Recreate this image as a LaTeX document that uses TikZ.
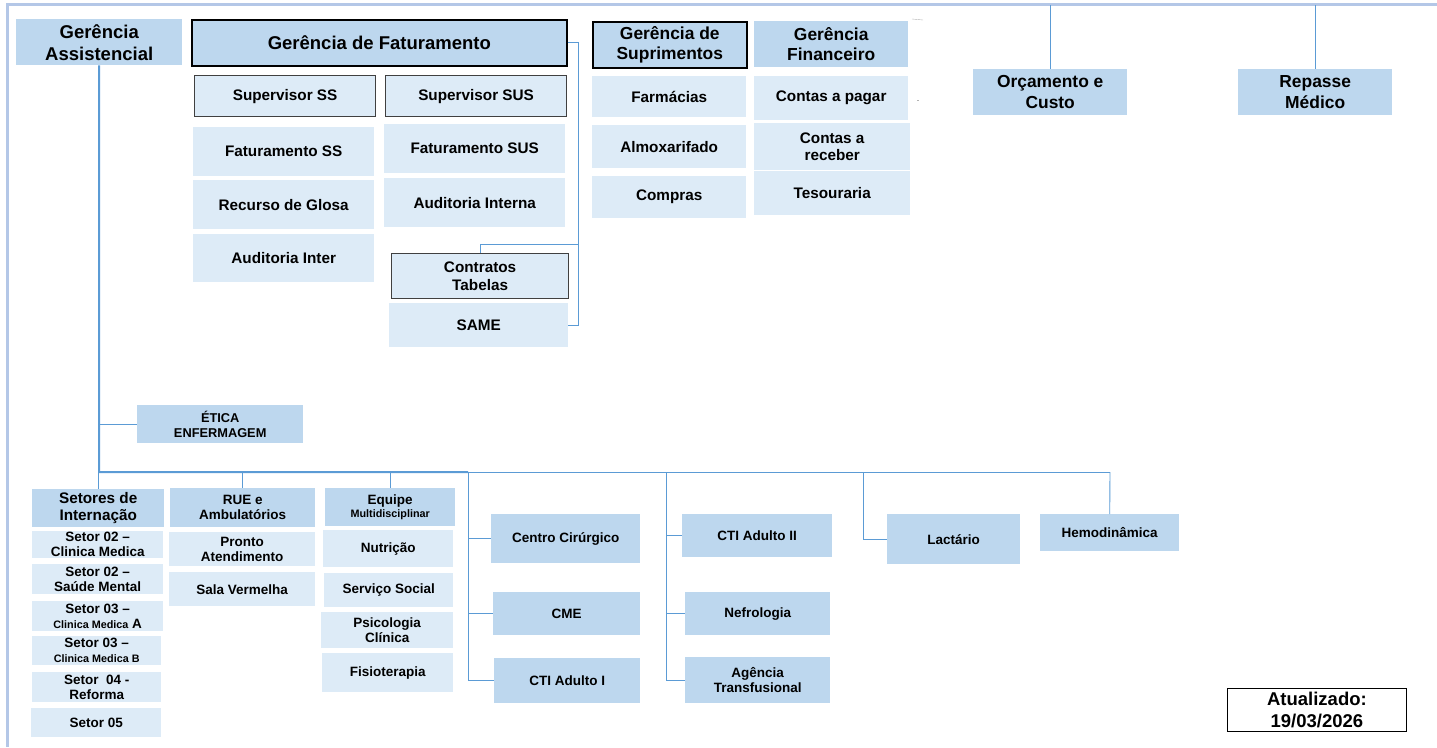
\documentclass[tikz,border=0pt]{standalone}
\usepackage{fontspec}
\setmainfont{Liberation Sans}
\definecolor{boxdark}{RGB}{189,215,238}
\definecolor{boxlight}{RGB}{221,235,247}
\definecolor{linkblue}{RGB}{91,155,213}
\definecolor{framelight}{RGB}{180,199,231}
\newcommand\smalltype{\fontsize{10.8}{12}\selectfont}
\begin{document}
\begin{tikzpicture}[x=1pt,y=-1pt,
		box/.style 2 args={anchor=north west, inner sep=0pt, align=center, minimum width=#1pt, minimum height=#2pt},
		hbox/.style={fill=boxdark},
		lbox/.style={fill=boxlight},
		hframe/.style={fill=boxdark, draw=black, line width=1.6pt},
		lframe/.style={fill=boxlight, draw=black!75, line width=1.2pt},
		fbig/.style={font=\fontsize{18.5}{22}\selectfont\bfseries},
		fmid/.style={font=\fontsize{17.4}{20.5}\selectfont\bfseries},
		fsub/.style={font=\fontsize{15.3}{17.5}\selectfont\bfseries},
		fsmall/.style={font=\fontsize{13.5}{15}\selectfont\bfseries},
		link/.style={draw=linkblue, line width=0.9pt},
		trunk/.style={draw=linkblue, line width=2pt}]
		\useasboundingbox (0,0) rectangle (1437,747);
		% frame
			\draw [framelight, line width=3pt] (7,747) -- (7,4) -- (1437,4);
			\coordinate (frametop) at (0,5);
			\draw [gray!60] (912,19) -- (923,20);
			\draw [gray!60] (917,100) -- (919,100);
		% gerencias
			\node [hbox, box={166}{46}, fbig] (assist) at (16,19) {Gerência\\Assistencial};
			\node [hframe, box={375}{46}, fbig] (fat) at (191,19) {Gerência de Faturamento};
			\node [hframe, box={154}{46}, fmid] (supr) at (592,21) {Gerência de\\Suprimentos};
			\node [hbox, box={154}{46}, fmid] (fin) at (754,21) {Gerência\\Financeiro};
			\node [hbox, box={154}{46}, fmid] (orc) at (973,69) {Orçamento e\\Custo};
			\node [hbox, box={154}{46}, fmid] (rep) at (1238,69) {Repasse\\Médico};
		% faturamento
			\node [lframe, box={181}{41}, fsub] (supSS) at (194,75) {Supervisor SS};
			\node [lframe, box={181}{41}, fsub] (supSUS) at (385,75) {Supervisor SUS};
			\node [lbox, box={181}{49}, fsub] (fatSS) at (193,127) {Faturamento SS};
			\node [lbox, box={181}{49}, fsub] (fatSUS) at (384,124) {Faturamento SUS};
			\node [lbox, box={181}{49}, fsub] (glosa) at (193,180) {Recurso de Glosa};
			\node [lbox, box={181}{49}, fsub] (audInt) at (384,178) {Auditoria Interna};
			\node [lbox, box={181}{48}, fsub] (audInter) at (193,234) {Auditoria Inter};
			\node [lframe, box={177}{45}, fsub] (contr) at (391,253) {Contratos\\Tabelas};
			\node [lbox, box={179}{44}, fsub] (same) at (389,303) {SAME};
			\coordinate (fatbend) at (578,244);
			\draw [link] (fat.east) -| (fatbend) -| (contr.north);
			\draw [link] (fatbend) |- (same.east);
		% suprimentos and financeiro
			\node [lbox, box={154}{41}, fsub] (farm) at (592,76) {Farmácias};
			\node [lbox, box={154}{43}, fsub] (almox) at (592,125) {Almoxarifado};
			\node [lbox, box={154}{42}, fsub] (compras) at (592,176) {Compras};
			\node [lbox, box={154}{44}, fsub] (pagar) at (754,76) {Contas a pagar};
			\node [lbox, box={156}{47}, fsub] (receber) at (754,123) {Contas a\\receber};
			\node [lbox, box={156}{44}, fsub] (tesour) at (754,171) {Tesouraria};
			\draw [link] (orc.north |- frametop) -- (orc.north);
			\draw [link] (rep.north |- frametop) -- (rep.north);
		% assistencial
			\coordinate (busL) at (99,472);
			\coordinate (busR) at (1110,472);
			\node [hbox, box={166}{38}, font=\fontsize{12.8}{14.5}\selectfont\bfseries] (etica) at (137,405) {ÉTICA\\ENFERMAGEM};
			\draw [trunk] (assist.south) -- (busL) -- (468,472);
			\draw [link] (468,472) -- (busR);
			\draw [link] (assist.south |- etica.west) -- (etica.west);
		% setores
			\node [hbox, box={132}{38}, fsub] (setores) at (32,489) {Setores de\\Internação};
			\node [lbox, box={131}{27}, fsmall] (s1) at (32,531) {Setor 02 --\\Clinica Medica};
			\node [lbox, box={131}{30}, fsmall] (s2) at (32,564) {Setor 02 --\\Saúde Mental};
			\node [lbox, box={131}{30}, fsmall] (s3) at (32,601) {Setor 03 --\\{\smalltype Clinica Medica} A};
			\node [lbox, box={129}{29}, fsmall] (s4) at (32,636) {Setor 03 --\\{\smalltype Clinica Medica B}};
			\node [lbox, box={129}{30}, fsmall] (s5) at (32,672) {Setor\ \ 04 -\\Reforma};
			\node [lbox, box={130}{29}, fsmall] (s6) at (31,708) {Setor 05};
			\draw [link] (setores.north |- busL) -- (setores.north);
		% rue and equipe
			\node [hbox, box={145}{39}, fsmall] (rue) at (170,488) {RUE e\\Ambulatórios};
			\node [lbox, box={146}{34}, fsmall] (pronto) at (169,532) {Pronto\\Atendimento};
			\node [lbox, box={146}{34}, fsmall] (sala) at (169,572) {Sala Vermelha};
			\node [hbox, box={130}{38}, fsmall] (equipe) at (325,488) {Equipe\\[-2pt]{\smalltype Multidisciplinar}};
			\node [lbox, box={130}{37}, fsmall] (nutri) at (323,530) {Nutrição};
			\node [lbox, box={129}{34}, fsmall] (social) at (324,573) {Serviço Social};
			\node [lbox, box={132}{36}, fsmall] (psico) at (321,612) {Psicologia\\Clínica};
			\node [lbox, box={131}{39}, fsmall] (fisio) at (322,653) {Fisioterapia};
			\draw [link] (rue.north |- busL) -- (rue.north);
			\draw [link] (equipe.north |- busL) -- (equipe.north);
		% units
			\node [hbox, box={149}{49}, fsmall] (cc) at (491,514) {Centro Cirúrgico};
			\node [hbox, box={147}{43}, fsmall] (cme) at (493,592) {CME};
			\node [hbox, box={146}{45}, fsmall] (cti1) at (494,658) {CTI Adulto I};
			\node [hbox, box={150}{43}, fsmall] (cti2) at (682,514) {CTI Adulto II};
			\node [hbox, box={145}{43}, fsmall] (nefro) at (685,592) {Nefrologia};
			\node [hbox, box={145}{46}, fsmall] (agencia) at (685,657) {Agência\\Transfusional};
			\node [hbox, box={133}{50}, fsmall] (lact) at (887,514) {Lactário};
			\node [hbox, box={139}{37}, fsmall] (hemo) at (1040,514) {Hemodinâmica};
			\coordinate (colA) at (468,472);
			\coordinate (colB) at (666,472);
			\coordinate (colC) at (863,472);
			\draw [link] (colA) |- (cti1.west);
			\draw [link] (colA |- cc.west) -- (cc.west);
			\draw [link] (colA |- cme.west) -- (cme.west);
			\draw [link] (colB) |- (agencia.west);
			\draw [link] (colB |- cti2.west) -- (cti2.west);
			\draw [link] (colB |- nefro.west) -- (nefro.west);
			\draw [link] (colC) |- (lact.west);
			\draw [link] (busR) -- (hemo.north);
		% date
			\node [box={179}{43}, draw=black, line width=0.8pt, fill=white, fbig] (atual) at (1227,688) {Atualizado:\\19/03/2026};
	\end{tikzpicture}
\end{document}
